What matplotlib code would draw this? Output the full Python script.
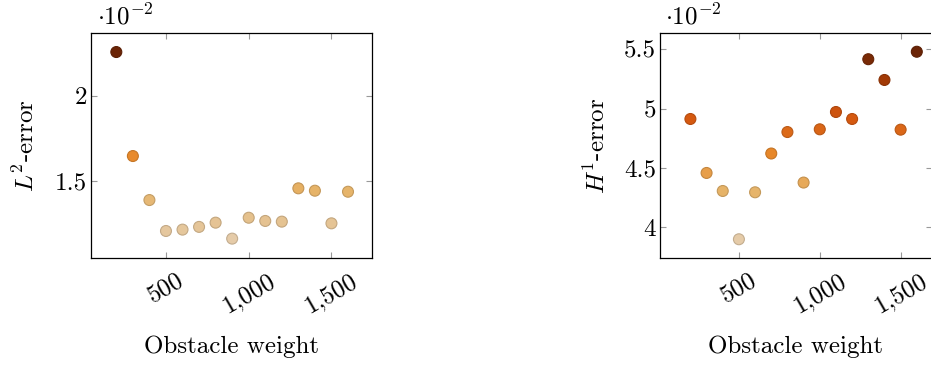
import numpy as np
import matplotlib.pyplot as plt
from matplotlib.colors import LinearSegmentedColormap, to_rgb
from matplotlib.ticker import FuncFormatter

plt.rcParams['font.family'] = 'cmr10'
plt.rcParams['mathtext.fontset'] = 'cm'
plt.rcParams['axes.formatter.use_mathtext'] = True

# obstacle weights and errors (errors in units of 1e-2)
weights = [200, 300, 400, 500, 600, 700, 800, 900, 1000, 1100, 1200, 1300, 1400, 1500, 1600]
l2_err = [2.257, 1.645, 1.386, 1.204, 1.212, 1.228, 1.253, 1.159, 1.282, 1.263, 1.259,
          1.455, 1.441, 1.249, 1.435]
h1_err = [4.913, 4.458, 4.306, 3.899, 4.295, 4.622, 4.803, 4.377, 4.826, 4.972, 4.913,
          5.417, 5.242, 4.823, 5.480]

xticks = [500, 1000, 1500]
l2_yticks = [1.5, 2]
h1_yticks = [4, 4.5, 5, 5.5]

cmap = LinearSegmentedColormap.from_list(
    'err', [(0.0, '#e5cba8'), (0.25, '#e6b46a'), (0.45, '#e8892a'),
            (0.65, '#d4570f'), (0.85, '#a23a06'), (1.0, '#6b2406')])

fs = 18

fig = plt.figure(figsize=(9.31, 3.68), dpi=100)
ax1 = fig.add_axes([91/931, 110/368, 281/931, 225/368])
ax2 = fig.add_axes([660/931, 110/368, 272/931, 225/368])


def num_fmt(v, pos):
    if abs(v - round(v)) < 1e-9:
        return '{:,}'.format(int(round(v)))
    return '{:g}'.format(v)


def draw(ax, y, yticks, ylabel, xlim, ylim):
    y = np.array(y)
    t = (y - y.min()) / (y.max() - y.min())
    face = cmap(t)
    edge = [tuple(np.array(to_rgb(c)) * 0.85) for c in face]
    ax.scatter(weights, y, s=62, c=face, edgecolors=edge, linewidths=0.8, zorder=3)
    ax.set_xlim(*xlim)
    ax.set_ylim(*ylim)
    ax.set_xticks(xticks)
    ax.set_yticks(yticks)
    ax.xaxis.set_major_formatter(FuncFormatter(num_fmt))
    ax.yaxis.set_major_formatter(FuncFormatter(num_fmt))
    ax.tick_params(direction='in', length=4, width=0.8, color='#999999',
                   top=True, right=True, labelsize=fs)
    ax.tick_params(axis='y', pad=3)
    ax.tick_params(axis='x', pad=8)
    for lab in ax.get_xticklabels():
        lab.set_rotation(30)
        lab.set_ha('center')
        lab.set_va('top')
    for sp in ax.spines.values():
        sp.set_linewidth(0.9)
    ax.set_xlabel('Obstacle weight', fontsize=fs)
    ax.xaxis.set_label_coords(0.5, -0.345)
    ax.set_ylabel(ylabel, fontsize=fs)
    ax.yaxis.set_label_coords(-0.185, 0.5)
    ax.text(0.02, 1.015, r'$\cdot 10^{-2}$', transform=ax.transAxes,
            fontsize=fs, ha='left', va='bottom')


draw(ax1, l2_err, l2_yticks, r'$L^2$-error', (47, 1745), (1.045, 2.369))
draw(ax2, h1_err, h1_yticks, r'$H^1$-error', (12, 1694), (3.741, 5.638))

fig.savefig('out.png', dpi=100)
